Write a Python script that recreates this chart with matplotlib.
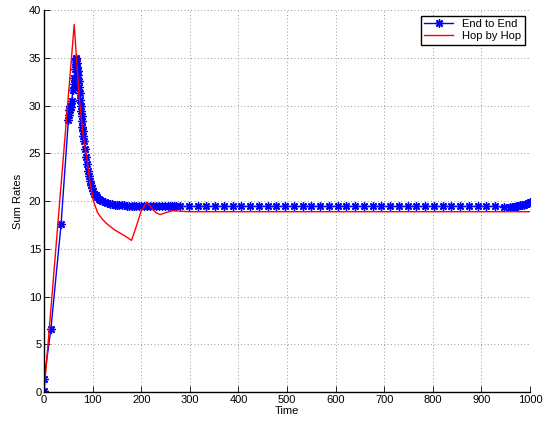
import matplotlib
matplotlib.use("Agg")
import matplotlib.pyplot as plt

plt.rcParams['font.family'] = ['Liberation Sans', 'DejaVu Sans']

# End to End (blue, star markers)
e2e_t = [0, 0, 14, 35, 50, 51, 52, 53, 54, 55, 57, 59, 61, 62, 63, 64, 65, 66,
         67, 68, 69, 70, 71, 72, 73, 74, 75, 76, 77, 78, 79, 80, 81, 82, 84,
         86, 88, 90, 92, 94, 96, 98, 100, 103, 106, 109, 112, 116, 120, 125,
         130, 135, 140, 145, 150, 155, 160, 165, 170, 175, 180, 185, 190, 195,
         200, 206, 212, 218, 224, 230, 236, 242, 248, 254, 260, 264, 268, 272,
         280, 298, 316, 334, 352, 370, 388, 406, 424, 442, 460, 478, 496, 514,
         532, 550, 568, 586, 604, 622, 640, 658, 676, 694, 712, 730, 748, 766,
         784, 802, 820, 838, 856, 874, 892, 910, 928, 946, 958, 962, 965, 968,
         971, 975, 979, 983, 987, 991, 995, 998, 1000]
e2e_y = [0.1, 1.36, 6.6, 17.6, 28.5, 29.0, 29.5, 30.0, 29.6, 29.9, 30.5, 31.6,
         32.3, 32.9, 33.8, 34.6, 35.0, 34.9, 34.5, 34.0, 33.6, 33.2, 32.6,
         32.0, 31.3, 30.6, 30.0, 29.4, 28.9, 28.4, 27.8, 27.3, 26.8, 26.3,
         25.5, 24.6, 23.9, 23.2, 22.6, 22.1, 21.7, 21.4, 21.1, 20.8, 20.6,
         20.4, 20.25, 20.1, 20.0, 19.9, 19.8, 19.75, 19.7, 19.65, 19.6, 19.6,
         19.55, 19.55, 19.5, 19.5, 19.5, 19.5, 19.45, 19.45, 19.45, 19.45,
         19.45, 19.45, 19.45, 19.45, 19.45, 19.45, 19.45, 19.45, 19.45, 19.45,
         19.45, 19.45, 19.45, 19.45, 19.45, 19.45, 19.45, 19.45, 19.45, 19.45,
         19.45, 19.45, 19.45, 19.45, 19.45, 19.45, 19.45, 19.45, 19.45, 19.45,
         19.45, 19.45, 19.45, 19.45, 19.45, 19.45, 19.45, 19.45, 19.45, 19.45,
         19.45, 19.45, 19.45, 19.45, 19.45, 19.45, 19.45, 19.45, 19.45, 19.4,
         19.4, 19.4, 19.4, 19.4, 19.45, 19.5, 19.55, 19.6, 19.65, 19.7, 19.8,
         19.85, 19.9]

# Hop by Hop (red line)
hbh_t = [0, 62, 72, 80, 88, 95, 101, 110, 120, 130, 145, 165, 180, 190, 200,
         211, 220, 230, 239, 250, 265, 280, 300, 1000]
hbh_y = [0.0, 38.5, 31.0, 27.0, 24.5, 21.8, 20.1, 18.8, 18.1, 17.6, 17.0,
         16.4, 15.9, 17.4, 19.0, 19.9, 19.4, 18.8, 18.6, 18.8, 19.0, 18.95,
         18.9, 18.9]

fig = plt.figure(figsize=(5.51, 4.24), dpi=100)
ax = fig.add_axes([0.08, 0.075, 0.882, 0.901])

ax.plot(e2e_t, e2e_y, color='blue', linestyle='-', marker=(8, 2, 0),
        linewidth=1, markersize=6, markeredgewidth=1.0, label='End to End')
ax.plot(hbh_t, hbh_y, 'r-', linewidth=1, label='Hop by Hop')

ax.set_xlim(0, 1000)
ax.set_ylim(0, 40)
ax.set_xticks(range(0, 1001, 100))
ax.set_yticks(range(0, 41, 5))
ax.tick_params(direction='in', labelsize=8, length=4, width=0.6, pad=2)
ax.grid(True, linestyle=(0, (1, 3)), color='#777777', linewidth=0.6)
for s in ['top', 'right']:
    ax.spines[s].set_visible(False)
for s in ['left', 'bottom']:
    ax.spines[s].set_linewidth(1.0)

ax.set_xlabel('Time', fontsize=8, labelpad=1)
ax.set_ylabel('Sum Rates', fontsize=8, labelpad=4)

leg = ax.legend(loc='upper right', fontsize=8, fancybox=False, framealpha=1,
                edgecolor='black', borderaxespad=0.5, handlelength=2.6,
                borderpad=0.3, labelspacing=0.2)
leg.get_frame().set_linewidth(1.0)

fig.savefig('out.png', dpi=100)
